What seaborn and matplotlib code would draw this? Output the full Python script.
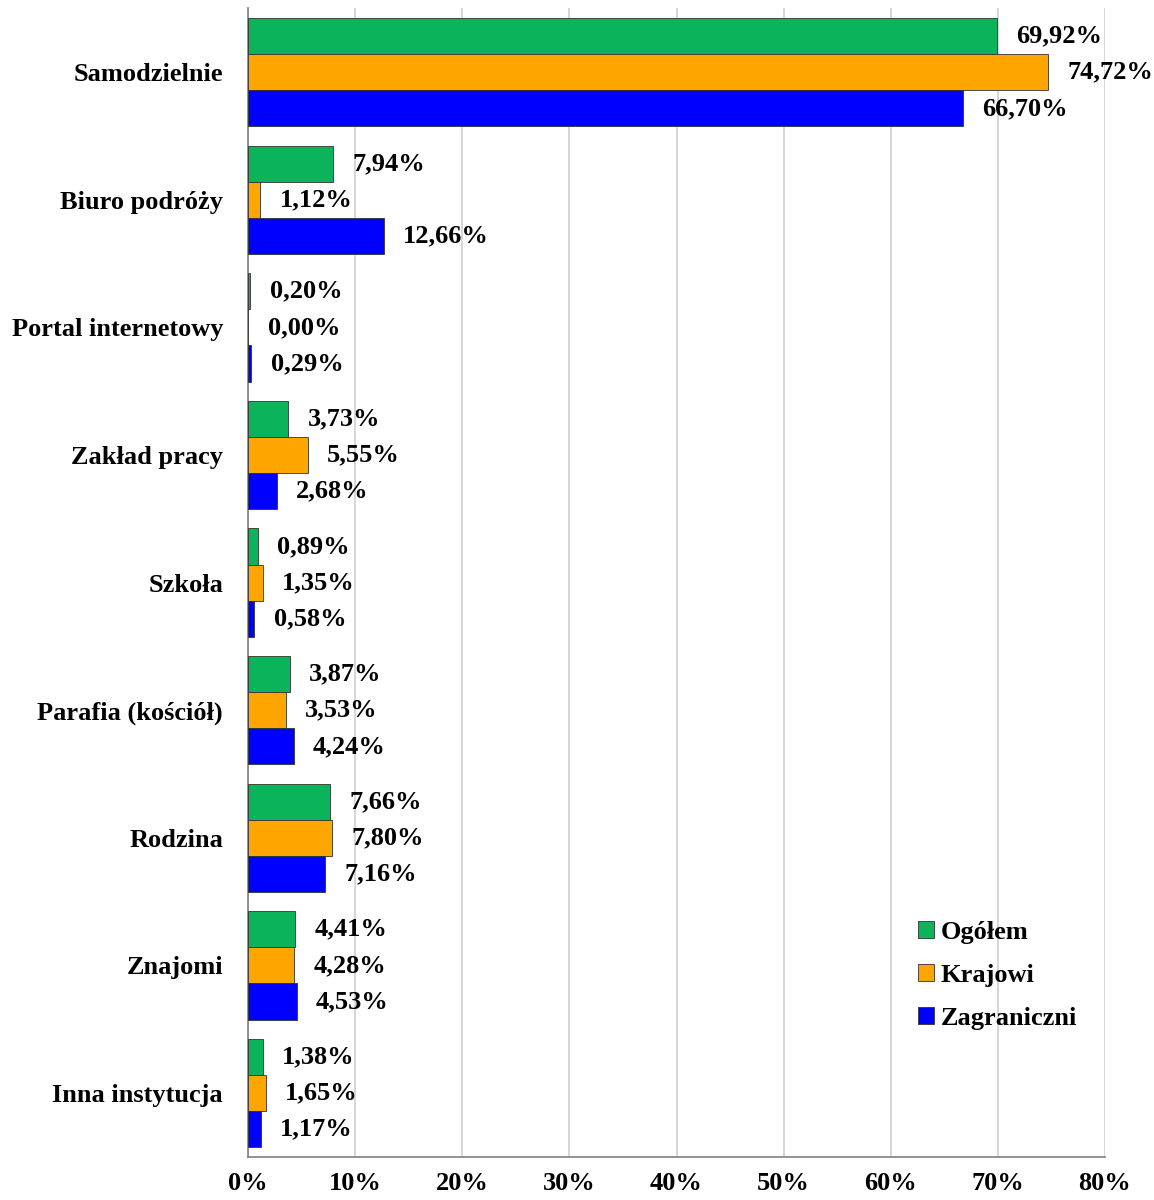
import matplotlib.pyplot as plt
import pandas as pd
import seaborn as sns
from matplotlib.ticker import FixedLocator, PercentFormatter

categories = ['Samodzielnie', 'Biuro podróży', 'Portal internetowy', 'Zakład pracy',
              'Szkoła', 'Parafia (kościół)', 'Rodzina', 'Znajomi', 'Inna instytucja']
ogolem = [69.92, 7.94, 0.20, 3.73, 0.89, 3.87, 7.66, 4.41, 1.38]
krajowi = [74.72, 1.12, 0.00, 5.55, 1.35, 3.53, 7.80, 4.28, 1.65]
zagraniczni = [66.70, 12.66, 0.29, 2.68, 0.58, 4.24, 7.16, 4.53, 1.17]
series = ['Ogółem', 'Krajowi', 'Zagraniczni']
colors = ['#0bb35a', '#ffa500', '#0000ff']

df = pd.DataFrame({
    'kategoria': categories * 3,
    'grupa': [s for s in series for _ in categories],
    'wartosc': ogolem + krajowi + zagraniczni,
})

sns.set_style('white')
plt.rcParams['font.family'] = ['Liberation Serif', 'DejaVu Serif']
plt.rcParams['font.weight'] = 'bold'
plt.rcParams['text.color'] = 'black'
plt.rcParams['xtick.color'] = 'black'
plt.rcParams['ytick.color'] = 'black'

fig = plt.figure(figsize=(11.54, 12), dpi=100)
ax = fig.add_axes([0.215, 0.036, 0.7425, 0.957])

sns.barplot(data=df, y='kategoria', x='wartosc', hue='grupa', hue_order=series,
            order=categories, palette=colors, saturation=1, width=0.85, orient='h',
            edgecolor='#333333', linewidth=0.6, ax=ax, zorder=3)

for cont in ax.containers:
    ax.bar_label(cont, labels=[f'{v:.2f}%'.replace('.', ',') for v in cont.datavalues],
                 padding=14, fontsize=19, fontweight='bold', color='black')

ax.set_xlim(0, 80)
ax.set_ylim(len(categories) - 0.5, -0.5)
ax.xaxis.set_major_formatter(PercentFormatter(decimals=0))
ax.set_xticks(range(0, 81, 10))
ax.grid(axis='x', color='#d0d0d0', linewidth=1.2, zorder=0)
ax.tick_params(axis='x', labelsize=19, length=7, color='#808080', pad=4)
ax.tick_params(axis='y', labelsize=19, length=0, pad=18)
ax.yaxis.set_minor_locator(FixedLocator([i - 0.5 for i in range(len(categories) + 1)]))
ax.tick_params(axis='y', which='minor', length=8, color='#808080', width=1.2)
for lbl in ax.get_xticklabels() + ax.get_yticklabels():
    lbl.set_fontweight('bold')
    lbl.set_color('black')
ax.set_xlabel('')
ax.set_ylabel('')
for s in ['top', 'right']:
    ax.spines[s].set_visible(False)
for s in ['left', 'bottom']:
    ax.spines[s].set_color('#808080')
    ax.spines[s].set_linewidth(1.2)

leg = ax.legend(title=None, frameon=False, loc='lower right', bbox_to_anchor=(0.995, 0.09),
                prop={'size': 19, 'weight': 'bold'}, handlelength=0.6, handleheight=0.6,
                handletextpad=0.25, labelspacing=0.75)
for t in leg.get_texts():
    t.set_color('black')

fig.savefig('out.png', dpi=100)
